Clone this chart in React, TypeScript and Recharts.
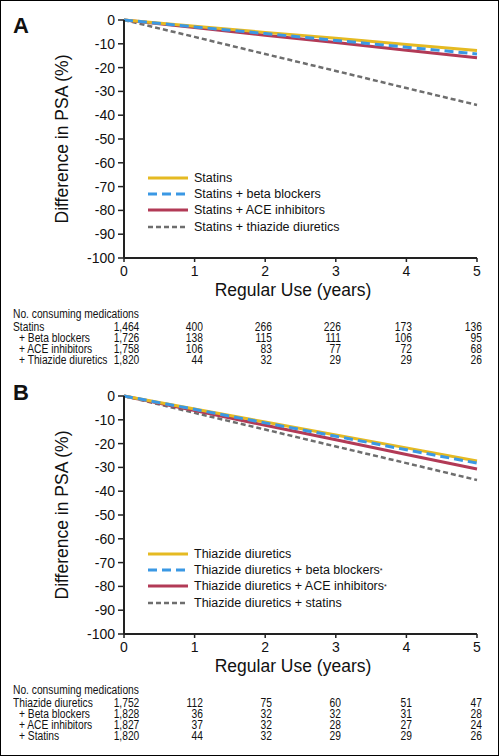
import React from "react";
import { Line, LineChart, XAxis, YAxis } from "recharts";

const YEARS = [0, 1, 2, 3, 4, 5];
const Y_TICKS = [0, -10, -20, -30, -40, -50, -60, -70, -80, -90, -100];

// panel A: statins
const A_STATINS = [0, -2.6, -5.2, -7.7, -10.3, -12.8];
const A_BETA = [0, -2.9, -5.7, -8.6, -11.4, -14.3];
const A_ACE = [0, -3.2, -6.4, -9.5, -12.7, -15.9];
const A_THIAZIDE = [0, -7.1, -14.3, -21.4, -28.6, -35.7];
const A_LEGEND = ["Statins", "Statins + beta blockers", "Statins + ACE inhibitors", "Statins + thiazide diuretics"];
const A_ROWS = ["Statins", "+ Beta blockers", "+ ACE inhibitors", "+ Thiazide diuretics"];
const A_COUNTS = [
  [1464, 400, 266, 226, 173, 136],
  [1726, 138, 115, 111, 106, 95],
  [1758, 106, 83, 77, 72, 68],
  [1820, 44, 32, 29, 29, 26],
];

// panel B: thiazide diuretics
const B_THIAZIDE = [0, -5.5, -10.9, -16.4, -21.8, -27.3];
const B_BETA = [0, -5.6, -11.3, -16.9, -22.6, -28.2];
const B_ACE = [0, -6.1, -12.3, -18.4, -24.6, -30.7];
const B_STATINS = [0, -7.1, -14.1, -21.2, -28.2, -35.3];
const B_LEGEND = [
  "Thiazide diuretics",
  "Thiazide diuretics + beta blockers*",
  "Thiazide diuretics + ACE inhibitors*",
  "Thiazide diuretics + statins",
];
const B_ROWS = ["Thiazide diuretics", "+ Beta blockers", "+ ACE inhibitors", "+ Statins"];
const B_COUNTS = [
  [1752, 112, 75, 60, 51, 47],
  [1828, 36, 32, 32, 31, 28],
  [1827, 37, 32, 28, 27, 24],
  [1820, 44, 32, 29, 29, 26],
];

const STYLES = [
  { color: "#E5BA22", dash: undefined as string | undefined, width: 3 },
  { color: "#3A98E4", dash: "9 5", width: 3 },
  { color: "#B23A56", dash: undefined, width: 3 },
  { color: "#6E6E6E", dash: "5 3", width: 2.5 },
];
const DRAW_ORDER = [3, 2, 0, 1];

const SANS = "'Liberation Sans', Arial, Helvetica, sans-serif";
const COL_RIGHT = [138, 202, 271, 340, 411, 481];

// no narrow face installed, so squeeze the table text horizontally
const narrow = (origin: "left" | "right"): React.CSSProperties => ({
  fontFamily: SANS,
  fontSize: 12.5,
  lineHeight: "11px",
  height: 11,
  whiteSpace: "nowrap",
  transform: "scaleX(0.82)",
  transformOrigin: origin,
});

function LegendLabel({ text }: { text: string }) {
  if (!text.endsWith("*")) return <>{text}</>;
  return (
    <>
      {text.slice(0, -1)}
      <span style={{ fontSize: 7, verticalAlign: 5 }}>*</span>
    </>
  );
}

type PanelProps = {
  top: number;
  letter: string;
  letterTop: number;
  series: number[][];
  legend: string[];
  rows: string[];
  counts: number[][];
};

function Panel({ top, letter, letterTop, series, legend, rows, counts }: PanelProps) {
  const data = YEARS.map((year, i) => {
    const row: Record<string, number> = { year };
    series.forEach((s, k) => (row["s" + k] = s[i]));
    return row;
  });

  return (
    <div style={{ position: "absolute", left: 0, top, width: 500, height: 380 }}>
      <div
        style={{
          position: "absolute",
          left: 12,
          top: letterTop - 4,
          fontFamily: SANS,
          fontWeight: "bold",
          fontSize: 22,
          lineHeight: "22px",
        }}
      >
        {letter}
      </div>

      <LineChart
        width={500}
        height={310}
        data={data}
        margin={{ top: 19, right: 24, bottom: 13, left: 0 }}
        style={{ fontFamily: SANS }}
      >
        <XAxis
          dataKey="year"
          type="number"
          domain={[0, 5]}
          ticks={YEARS}
          height={40}
          tickSize={4}
          tickMargin={4}
          axisLine={{ stroke: "#222", strokeWidth: 2 }}
          tickLine={{ stroke: "#222", strokeWidth: 1.5 }}
          tick={{ fill: "#111", fontSize: 14 }}
        />
        <YAxis
          type="number"
          domain={[-100, 0]}
          ticks={Y_TICKS}
          interval={0}
          width={123}
          tickSize={6}
          tickMargin={3}
          axisLine={{ stroke: "#222", strokeWidth: 2 }}
          tickLine={{ stroke: "#222", strokeWidth: 1.5 }}
          tick={{ fill: "#111", fontSize: 14 }}
        />
        {DRAW_ORDER.map((k) => (
          <Line
            key={k}
            type="linear"
            dataKey={"s" + k}
            stroke={STYLES[k].color}
            strokeWidth={STYLES[k].width}
            strokeDasharray={STYLES[k].dash}
            dot={false}
            isAnimationActive={false}
          />
        ))}
      </LineChart>

      {/* axis titles */}
      <div
        style={{
          position: "absolute",
          left: 62,
          top: 138,
          transform: "translate(-50%, -50%) rotate(-90deg)",
          whiteSpace: "nowrap",
          fontFamily: SANS,
          fontSize: 17.5,
          lineHeight: 1,
        }}
      >
        Difference in PSA (%)
      </div>
      <div
        style={{
          position: "absolute",
          left: 292,
          top: 290,
          transform: "translate(-50%, -50%)",
          whiteSpace: "nowrap",
          fontFamily: SANS,
          fontSize: 17.5,
          lineHeight: 1,
        }}
      >
        Regular Use (years)
      </div>

      {/* legend */}
      {legend.map((name, k) => (
        <div
          key={name}
          style={{
            position: "absolute",
            left: 147,
            top: 177 + k * 16.2 - 8,
            height: 16,
            display: "flex",
            alignItems: "center",
            fontFamily: SANS,
            fontSize: 12.5,
            whiteSpace: "nowrap",
          }}
        >
          <svg width={40} height={6} style={{ marginRight: 6 }}>
            <line
              x1={0}
              y1={3}
              x2={40}
              y2={3}
              stroke={STYLES[k].color}
              strokeWidth={STYLES[k].width}
              strokeDasharray={STYLES[k].dash}
            />
          </svg>
          <LegendLabel text={name} />
        </div>
      ))}

      {/* numbers at risk */}
      <div style={{ position: "absolute", left: 12, top: 313 - 5.5, ...narrow("left") }}>
        No. consuming medications
      </div>
      {rows.map((label, r) => (
        <React.Fragment key={label}>
          <div
            style={{
              position: "absolute",
              left: r === 0 ? 12 : 18,
              top: 326 + r * 11 - 5.5,
              ...narrow("left"),
            }}
          >
            {label}
          </div>
          {counts[r].map((n, c) => (
            <div
              key={c}
              style={{
                position: "absolute",
                right: 500 - COL_RIGHT[c],
                top: 326 + r * 11 - 5.5,
                textAlign: "right",
                ...narrow("right"),
              }}
            >
              {n.toLocaleString("en-US")}
            </div>
          ))}
        </React.Fragment>
      ))}
    </div>
  );
}

export default function App() {
  return (
    <div
      style={{
        position: "absolute",
        left: 0,
        top: 0,
        width: 499,
        height: 756,
        boxSizing: "border-box",
        border: "1px solid #000",
        background: "#fff",
        color: "#111",
        overflow: "hidden",
      }}
    >
      <Panel
        top={0}
        letter="A"
        letterTop={18}
        series={[A_STATINS, A_BETA, A_ACE, A_THIAZIDE]}
        legend={A_LEGEND}
        rows={A_ROWS}
        counts={A_COUNTS}
      />
      <Panel
        top={376}
        letter="B"
        letterTop={9}
        series={[B_THIAZIDE, B_BETA, B_ACE, B_STATINS]}
        legend={B_LEGEND}
        rows={B_ROWS}
        counts={B_COUNTS}
      />
    </div>
  );
}
